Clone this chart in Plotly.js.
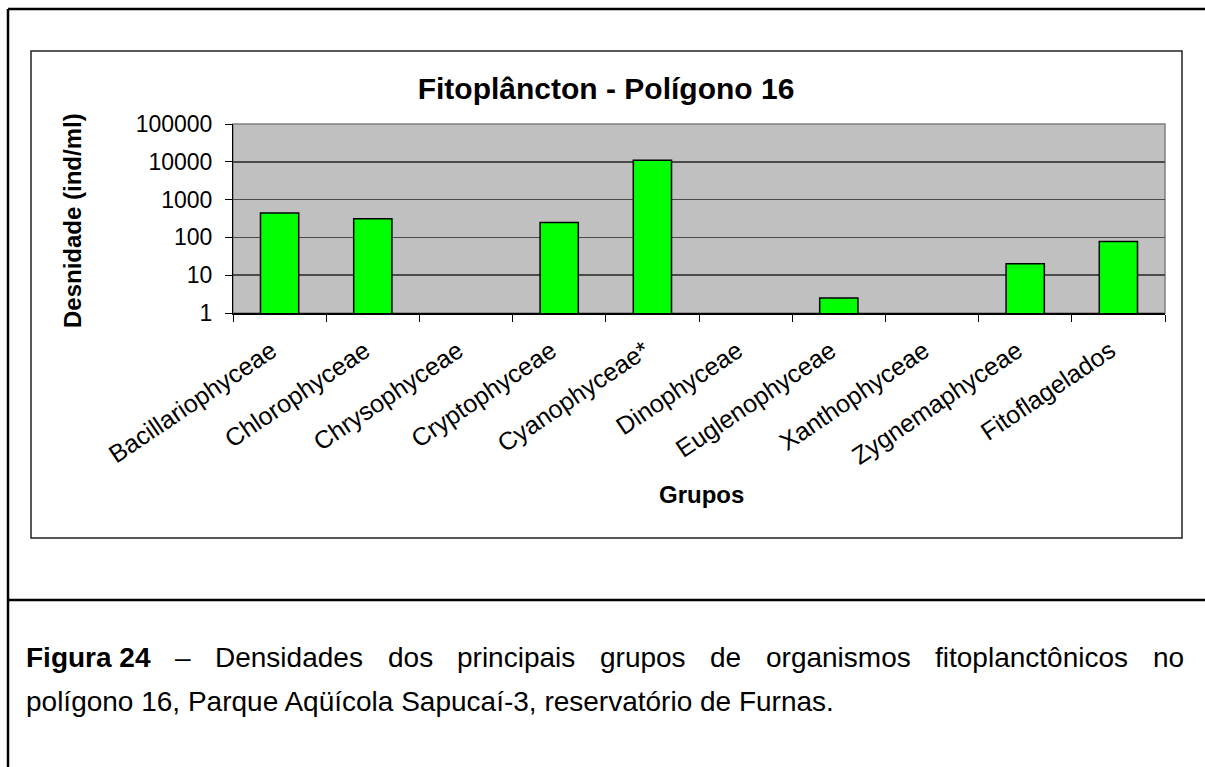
<!DOCTYPE html>
<html>
<head>
<meta charset="utf-8">
<script src="https://cdn.plot.ly/plotly-3.0.1.min.js"></script>
<style>
html,body{margin:0;padding:0;background:#fff;}
#chart{width:1205px;height:767px;}
</style>
</head>
<body>
<div id="chart"></div>
<script>
// ---- data ----
const categories = ["Bacillariophyceae","Chlorophyceae","Chrysophyceae","Cryptophyceae","Cyanophyceae*","Dinophyceae","Euglenophyceae","Xanthophyceae","Zygnemaphyceae","Fitoflagelados"];
const densidade = [440, 311, null, 249, 11070, null, 2.5, null, 20, 78];
const yTickVals = [1, 10, 100, 1000, 10000, 100000];
const yTickText = ["1", "10", "100", "1000", "10000", "100000"];
const chartTitle = "Fitoplâncton - Polígono 16";
const yTitle = "Desnidade (ind/ml)";
const xTitle = "Grupos";
const captionLine1Words = ["Figura 24", "–", "Densidades", "dos", "principais", "grupos", "de", "organismos", "fitoplanctônicos", "no"];
const captionLine2 = "polígono 16, Parque Aqüícola Sapucaí-3, reservatório de Furnas.";

// ---- geometry helpers (pixel -> paper) ----
const W = 1205, H = 767;
const PL = 233, PR = 1165, PT = 124, PB = 313;
const px = x => (x - PL) / (PR - PL);
const py = y => (PB - y) / (PB - PT);
const FONT = "Liberation Sans, Arial, Helvetica, sans-serif";
const CAP = 28;

// justified first caption line: words placed with equal gaps
const cv = document.createElement("canvas").getContext("2d");
function tw(t, bold) { cv.font = (bold ? "bold " : "") + CAP + "px 'Liberation Sans'"; return cv.measureText(t).width; }
const capLeft = 24, capRight = 1182;
const wordW = captionLine1Words.map((w, i) => tw(w, i === 0));
const gap = (capRight - capLeft - wordW.reduce((a, b) => a + b, 0)) / (captionLine1Words.length - 1);
const capAnn = [];
let cx = capLeft;
captionLine1Words.forEach((w, i) => {
  capAnn.push({text: i === 0 ? "<b>" + w + "</b>" : w, xref: "paper", yref: "paper",
    x: px(cx), y: py(657), showarrow: false, xanchor: "left", yanchor: "middle",
    font: {family: FONT, size: CAP, color: "#000"}});
  cx += wordW[i] + gap;
});
capAnn.push({text: captionLine2, xref: "paper", yref: "paper",
  x: px(capLeft), y: py(701), showarrow: false, xanchor: "left", yanchor: "middle",
  font: {family: FONT, size: CAP, color: "#000"}});

const trace = {
  type: "bar",
  x: categories,
  y: densidade,
  marker: {color: "#00FF00", line: {color: "#000000", width: 1.5}},
  hoverinfo: "x+y"
};

const layout = {
  width: W, height: H,
  margin: {l: PL, r: W - PR, t: PT, b: H - PB, pad: 0},
  paper_bgcolor: "#ffffff",
  plot_bgcolor: "#C0C0C0",
  showlegend: false,
  bargap: 0.59,
  font: {family: FONT, color: "#000000", size: 23},
  title: {
    text: "<b>" + chartTitle + "</b>",
    font: {family: FONT, size: 30, color: "#000"},
    xref: "paper", x: px(606), xanchor: "center",
    yref: "container", y: 1 - 88 / H, yanchor: "middle"
  },
  xaxis: {
    type: "category",
    tickangle: -34,
    ticks: "outside", ticklen: 7, tickcolor: "#000", tickwidth: 1,
    tickson: "boundaries",
    ticklabelstandoff: 12,
    ticklabelshift: -8,
    showline: true, linecolor: "#000", linewidth: 1.5,
    showgrid: false, zeroline: false,
    tickfont: {family: FONT, size: 25, color: "#000"},
    automargin: false
  },
  yaxis: {
    type: "log",
    range: [0, 5],
    tickvals: yTickVals, ticktext: yTickText,
    ticks: "outside", ticklen: 7, tickcolor: "#000", tickwidth: 1,
    ticklabelstandoff: 8,
    showline: true, linecolor: "#000", linewidth: 1,
    showgrid: true, gridcolor: "#4a4a4a", gridwidth: 1.5,
    zeroline: false,
    tickfont: {family: FONT, size: 23, color: "#000"},
    automargin: false
  },
  annotations: [
    {text: "<b>" + yTitle + "</b>", xref: "paper", yref: "paper",
     x: px(72), y: py(221), textangle: -90, showarrow: false,
     xanchor: "center", yanchor: "middle",
     font: {family: FONT, size: 24, color: "#000"}},
    {text: "<b>" + xTitle + "</b>", xref: "paper", yref: "paper",
     x: px(701), y: py(495), showarrow: false,
     xanchor: "center", yanchor: "middle",
     font: {family: FONT, size: 24, color: "#000"}}
  ].concat(capAnn),
  shapes: [
    {type: "rect", xref: "paper", yref: "paper", x0: 0, x1: 1, y0: 0, y1: 1,
     line: {color: "#808080", width: 1.5}, layer: "below"},
    {type: "rect", xref: "paper", yref: "paper", x0: px(31), x1: px(1182), y0: py(51), y1: py(538),
     line: {color: "#222", width: 1.5}, fillcolor: "rgba(0,0,0,0)"},
    {type: "line", xref: "paper", yref: "paper", x0: px(8), x1: px(8), y0: py(9), y1: py(767),
     line: {color: "#000", width: 2.5}},
    {type: "line", xref: "paper", yref: "paper", x0: px(8), x1: px(1205), y0: py(9), y1: py(9),
     line: {color: "#000", width: 2.5}},
    {type: "line", xref: "paper", yref: "paper", x0: px(8), x1: px(1205), y0: py(600), y1: py(600),
     line: {color: "#000", width: 2.5}}
  ]
};

Plotly.newPlot("chart", [trace], layout, {staticPlot: true, displayModeBar: false});
</script>
</body>
</html>
